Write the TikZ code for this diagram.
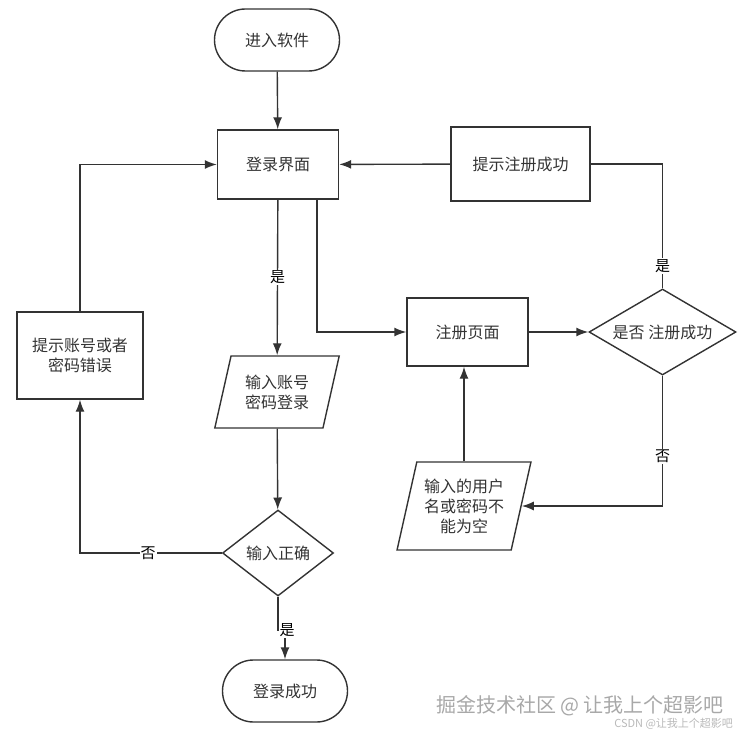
\documentclass[tikz,border=0pt]{standalone}
\usepackage{fontspec}
\setmainfont{Noto Sans CJK SC}
\usepackage{xcolor}
\usepackage{tikz}
\usetikzlibrary{arrows.meta}
\usetikzlibrary{shapes.geometric}
\usetikzlibrary{shapes.misc}
\definecolor{linegray}{HTML}{333333}
\definecolor{markgray}{HTML}{A8A8A8}
\tikzset{
    flownode/.style = {align=center, inner sep=0pt, text centered, draw=linegray, line width=1.4pt, text=linegray, font=\fontsize{16}{20}\selectfont},
    term_node/.style = {flownode, rounded rectangle, minimum width=125pt, minimum height=62pt},
    proc_node/.style = {flownode, rectangle, minimum width=121pt, minimum height=69pt},
    io_node/.style = {flownode, trapezium, trapezium left angle=72, trapezium right angle=108, trapezium stretches=true, minimum width=125pt, minimum height=72pt},
    dec_node/.style = {flownode, diamond, aspect=1.29, minimum width=111pt, minimum height=86pt},
    lbl/.style = {fill=white, inner sep=1pt, font=\fontsize{15}{19}\selectfont}
}

\begin{document}
\begin{tikzpicture}[->,>={Latex[length=12pt,width=9pt]},x=1pt,y=-1pt,line width=1.4pt,draw=linegray]
            \useasboundingbox (0,0) rectangle (745,738);
            % login part
            \node (start) [term_node] at (277,40) {进入软件};
            \node (login) [proc_node] at (278,164.5) {登录界面};
            \node (in1) [io_node] at (277,392) {输入账号\\密码登录};
            \node (dec1) [dec_node] at (278,553) {输入正确};
            \node (done) [term_node] at (285,691) {登录成功};
            \node (err) [proc_node, minimum width=126pt, minimum height=87pt] at (80,355.5) {提示账号或者\\密码错误};
            % register part
            \node (regok) [proc_node, minimum width=139pt, minimum height=74pt] at (520.5,164) {提示注册成功};
            \node (reg) [proc_node, minimum height=68pt] at (467.5,332) {注册页面};
            \node (regdec) [dec_node, aspect=1.7, minimum width=147pt] at (662.5,332) {是否 注册成功};
            \node (in2) [io_node, minimum width=134pt, minimum height=88pt, trapezium left angle=73, trapezium right angle=107] at (464,506) {输入的用户\\名或密码不\\能为空};
            \coordinate (jog) at (278,630);

            \draw (start) -- (login);
            \draw (err.north) |- (login.west);
            \draw (login) -- node[lbl] {是} (in1);
            \draw ([xshift=39pt]login.south) |- (reg.west);
            \draw (regok) -- (login);
            \draw[-] (regdec.north) |- node[lbl, pos=0.09] {是} (regok.east);
            \draw (reg) -- (regdec);
            \draw (regdec.south) |- node[lbl, pos=0.31] {否} (in2.east);
            \draw (in2.north) -- (in2.north |- reg.south);
            \draw (in1) -- (dec1);
            \draw (dec1.west) -| node[lbl, pos=0.26] {否} (err.south);
            \draw (dec1.south) -- (jog) -| (done.north);
            \node (yes3) [lbl] at (287,630) {是};

            % watermark
            \node (mark1) [text=markgray, font=\fontsize{20}{24}\selectfont] at (580,706) {掘金技术社区 @ 让我上个超影吧};
            \node (mark2) [text=markgray!80, font=\fontsize{11}{13}\selectfont, anchor=east] at (737,724) {CSDN @让我上个超影吧};
        \end{tikzpicture}
\end{document}
